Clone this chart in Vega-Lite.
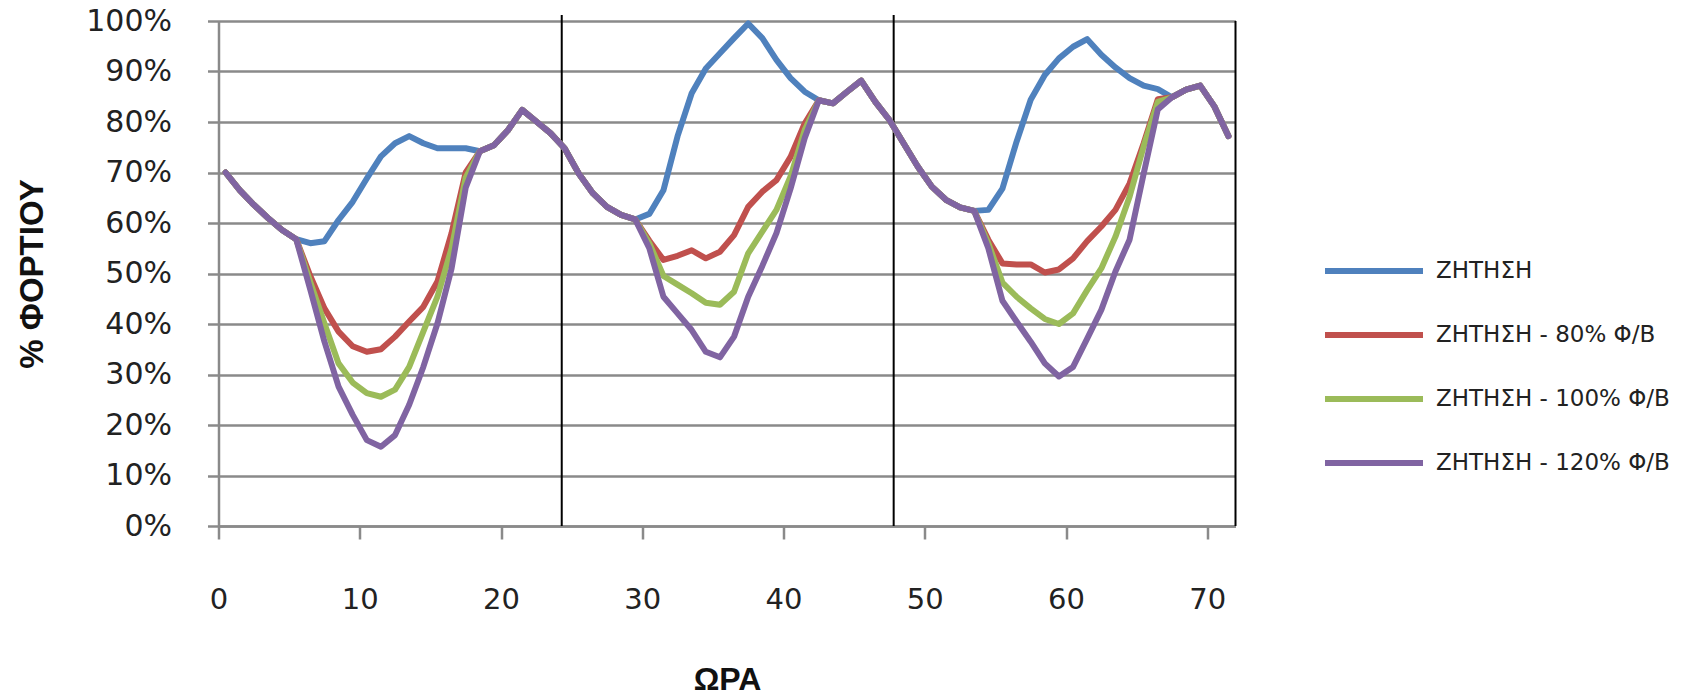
{
"$schema": "https://vega.github.io/schema/vega-lite/v6.json",
"width": 1017,
"height": 505,
"autosize": {"type": "none"},
"padding": {"left": 218.5, "top": 21, "right": 450.5, "bottom": 171},
"background": "white",
"config": {"view": {"stroke": null}, "font": "DejaVu Sans"},
"datasets": {
"dividers": [{"h": 24.3, "v": 0, "v2": 101.2}, {"h": 47.8, "v": 0, "v2": 101.2}, {"h": 72, "v": 0, "v2": 100}],
"load": [
{"h":0.5,"s":"ΖΗΤΗΣΗ","v":70},{"h":1.5,"s":"ΖΗΤΗΣΗ","v":66.5},{"h":2.5,"s":"ΖΗΤΗΣΗ","v":63.6},{"h":3.5,"s":"ΖΗΤΗΣΗ","v":61},{"h":4.5,"s":"ΖΗΤΗΣΗ","v":58.6},{"h":5.5,"s":"ΖΗΤΗΣΗ","v":56.8},{"h":6.5,"s":"ΖΗΤΗΣΗ","v":56.0},{"h":7.5,"s":"ΖΗΤΗΣΗ","v":56.4},{"h":8.5,"s":"ΖΗΤΗΣΗ","v":60.6},{"h":9.5,"s":"ΖΗΤΗΣΗ","v":64.2},
{"h":10.5,"s":"ΖΗΤΗΣΗ","v":68.8},{"h":11.5,"s":"ΖΗΤΗΣΗ","v":73.2},{"h":12.5,"s":"ΖΗΤΗΣΗ","v":75.8},{"h":13.5,"s":"ΖΗΤΗΣΗ","v":77.2},{"h":14.5,"s":"ΖΗΤΗΣΗ","v":75.8},{"h":15.5,"s":"ΖΗΤΗΣΗ","v":74.8},{"h":16.5,"s":"ΖΗΤΗΣΗ","v":74.8},{"h":17.5,"s":"ΖΗΤΗΣΗ","v":74.8},{"h":18.5,"s":"ΖΗΤΗΣΗ","v":74.2},{"h":19.5,"s":"ΖΗΤΗΣΗ","v":75.4},
{"h":20.5,"s":"ΖΗΤΗΣΗ","v":78.4},{"h":21.5,"s":"ΖΗΤΗΣΗ","v":82.4},{"h":22.5,"s":"ΖΗΤΗΣΗ","v":80.1},{"h":23.5,"s":"ΖΗΤΗΣΗ","v":77.8},{"h":24.5,"s":"ΖΗΤΗΣΗ","v":74.8},{"h":25.5,"s":"ΖΗΤΗΣΗ","v":69.8},{"h":26.5,"s":"ΖΗΤΗΣΗ","v":65.9},{"h":27.5,"s":"ΖΗΤΗΣΗ","v":63.2},{"h":28.5,"s":"ΖΗΤΗΣΗ","v":61.6},{"h":29.5,"s":"ΖΗΤΗΣΗ","v":60.7},
{"h":30.5,"s":"ΖΗΤΗΣΗ","v":61.8},{"h":31.5,"s":"ΖΗΤΗΣΗ","v":66.5},{"h":32.5,"s":"ΖΗΤΗΣΗ","v":77.2},{"h":33.5,"s":"ΖΗΤΗΣΗ","v":85.7},{"h":34.5,"s":"ΖΗΤΗΣΗ","v":90.6},{"h":35.5,"s":"ΖΗΤΗΣΗ","v":93.6},{"h":36.5,"s":"ΖΗΤΗΣΗ","v":96.6},{"h":37.5,"s":"ΖΗΤΗΣΗ","v":99.5},{"h":38.5,"s":"ΖΗΤΗΣΗ","v":96.6},{"h":39.5,"s":"ΖΗΤΗΣΗ","v":92.3},
{"h":40.5,"s":"ΖΗΤΗΣΗ","v":88.7},{"h":41.5,"s":"ΖΗΤΗΣΗ","v":86.0},{"h":42.5,"s":"ΖΗΤΗΣΗ","v":84.3},{"h":43.5,"s":"ΖΗΤΗΣΗ","v":83.7},{"h":44.5,"s":"ΖΗΤΗΣΗ","v":86.0},{"h":45.5,"s":"ΖΗΤΗΣΗ","v":88.2},{"h":46.5,"s":"ΖΗΤΗΣΗ","v":84.0},{"h":47.5,"s":"ΖΗΤΗΣΗ","v":80.4},{"h":48.5,"s":"ΖΗΤΗΣΗ","v":75.8},{"h":49.5,"s":"ΖΗΤΗΣΗ","v":71.2},
{"h":50.5,"s":"ΖΗΤΗΣΗ","v":67.2},{"h":51.5,"s":"ΖΗΤΗΣΗ","v":64.6},{"h":52.5,"s":"ΖΗΤΗΣΗ","v":63.1},{"h":53.5,"s":"ΖΗΤΗΣΗ","v":62.4},{"h":54.5,"s":"ΖΗΤΗΣΗ","v":62.6},{"h":55.5,"s":"ΖΗΤΗΣΗ","v":66.8},{"h":56.5,"s":"ΖΗΤΗΣΗ","v":76.1},{"h":57.5,"s":"ΖΗΤΗΣΗ","v":84.4},{"h":58.5,"s":"ΖΗΤΗΣΗ","v":89.3},{"h":59.5,"s":"ΖΗΤΗΣΗ","v":92.6},
{"h":60.5,"s":"ΖΗΤΗΣΗ","v":94.9},{"h":61.5,"s":"ΖΗΤΗΣΗ","v":96.4},{"h":62.5,"s":"ΖΗΤΗΣΗ","v":93.3},{"h":63.5,"s":"ΖΗΤΗΣΗ","v":90.8},{"h":64.5,"s":"ΖΗΤΗΣΗ","v":88.7},{"h":65.5,"s":"ΖΗΤΗΣΗ","v":87.2},{"h":66.5,"s":"ΖΗΤΗΣΗ","v":86.5},{"h":67.5,"s":"ΖΗΤΗΣΗ","v":84.9},{"h":68.5,"s":"ΖΗΤΗΣΗ","v":86.4},{"h":69.5,"s":"ΖΗΤΗΣΗ","v":87.2},
{"h":70.5,"s":"ΖΗΤΗΣΗ","v":83.1},{"h":71.5,"s":"ΖΗΤΗΣΗ","v":77.2},
{"h":0.5,"s":"ΖΗΤΗΣΗ - 80% Φ/Β","v":70},{"h":1.5,"s":"ΖΗΤΗΣΗ - 80% Φ/Β","v":66.5},{"h":2.5,"s":"ΖΗΤΗΣΗ - 80% Φ/Β","v":63.6},{"h":3.5,"s":"ΖΗΤΗΣΗ - 80% Φ/Β","v":61},{"h":4.5,"s":"ΖΗΤΗΣΗ - 80% Φ/Β","v":58.6},{"h":5.5,"s":"ΖΗΤΗΣΗ - 80% Φ/Β","v":56.8},{"h":6.5,"s":"ΖΗΤΗΣΗ - 80% Φ/Β","v":49.5},{"h":7.5,"s":"ΖΗΤΗΣΗ - 80% Φ/Β","v":43.1},{"h":8.5,"s":"ΖΗΤΗΣΗ - 80% Φ/Β","v":38.5},{"h":9.5,"s":"ΖΗΤΗΣΗ - 80% Φ/Β","v":35.6},
{"h":10.5,"s":"ΖΗΤΗΣΗ - 80% Φ/Β","v":34.5},{"h":11.5,"s":"ΖΗΤΗΣΗ - 80% Φ/Β","v":35.0},{"h":12.5,"s":"ΖΗΤΗΣΗ - 80% Φ/Β","v":37.5},{"h":13.5,"s":"ΖΗΤΗΣΗ - 80% Φ/Β","v":40.5},{"h":14.5,"s":"ΖΗΤΗΣΗ - 80% Φ/Β","v":43.4},{"h":15.5,"s":"ΖΗΤΗΣΗ - 80% Φ/Β","v":48.4},{"h":16.5,"s":"ΖΗΤΗΣΗ - 80% Φ/Β","v":58},{"h":17.5,"s":"ΖΗΤΗΣΗ - 80% Φ/Β","v":70},{"h":18.5,"s":"ΖΗΤΗΣΗ - 80% Φ/Β","v":74.2},{"h":19.5,"s":"ΖΗΤΗΣΗ - 80% Φ/Β","v":75.4},
{"h":20.5,"s":"ΖΗΤΗΣΗ - 80% Φ/Β","v":78.4},{"h":21.5,"s":"ΖΗΤΗΣΗ - 80% Φ/Β","v":82.4},{"h":22.5,"s":"ΖΗΤΗΣΗ - 80% Φ/Β","v":80.1},{"h":23.5,"s":"ΖΗΤΗΣΗ - 80% Φ/Β","v":77.8},{"h":24.5,"s":"ΖΗΤΗΣΗ - 80% Φ/Β","v":74.8},{"h":25.5,"s":"ΖΗΤΗΣΗ - 80% Φ/Β","v":69.8},{"h":26.5,"s":"ΖΗΤΗΣΗ - 80% Φ/Β","v":65.9},{"h":27.5,"s":"ΖΗΤΗΣΗ - 80% Φ/Β","v":63.2},{"h":28.5,"s":"ΖΗΤΗΣΗ - 80% Φ/Β","v":61.6},{"h":29.5,"s":"ΖΗΤΗΣΗ - 80% Φ/Β","v":60.7},
{"h":30.5,"s":"ΖΗΤΗΣΗ - 80% Φ/Β","v":56.5},{"h":31.5,"s":"ΖΗΤΗΣΗ - 80% Φ/Β","v":52.7},{"h":32.5,"s":"ΖΗΤΗΣΗ - 80% Φ/Β","v":53.5},{"h":33.5,"s":"ΖΗΤΗΣΗ - 80% Φ/Β","v":54.6},{"h":34.5,"s":"ΖΗΤΗΣΗ - 80% Φ/Β","v":53.0},{"h":35.5,"s":"ΖΗΤΗΣΗ - 80% Φ/Β","v":54.3},{"h":36.5,"s":"ΖΗΤΗΣΗ - 80% Φ/Β","v":57.6},{"h":37.5,"s":"ΖΗΤΗΣΗ - 80% Φ/Β","v":63.2},{"h":38.5,"s":"ΖΗΤΗΣΗ - 80% Φ/Β","v":66.2},{"h":39.5,"s":"ΖΗΤΗΣΗ - 80% Φ/Β","v":68.5},
{"h":40.5,"s":"ΖΗΤΗΣΗ - 80% Φ/Β","v":73.1},{"h":41.5,"s":"ΖΗΤΗΣΗ - 80% Φ/Β","v":79.7},{"h":42.5,"s":"ΖΗΤΗΣΗ - 80% Φ/Β","v":84.3},{"h":43.5,"s":"ΖΗΤΗΣΗ - 80% Φ/Β","v":83.7},{"h":44.5,"s":"ΖΗΤΗΣΗ - 80% Φ/Β","v":86.0},{"h":45.5,"s":"ΖΗΤΗΣΗ - 80% Φ/Β","v":88.2},{"h":46.5,"s":"ΖΗΤΗΣΗ - 80% Φ/Β","v":84.0},{"h":47.5,"s":"ΖΗΤΗΣΗ - 80% Φ/Β","v":80.4},{"h":48.5,"s":"ΖΗΤΗΣΗ - 80% Φ/Β","v":75.8},{"h":49.5,"s":"ΖΗΤΗΣΗ - 80% Φ/Β","v":71.2},
{"h":50.5,"s":"ΖΗΤΗΣΗ - 80% Φ/Β","v":67.2},{"h":51.5,"s":"ΖΗΤΗΣΗ - 80% Φ/Β","v":64.6},{"h":52.5,"s":"ΖΗΤΗΣΗ - 80% Φ/Β","v":63.1},{"h":53.5,"s":"ΖΗΤΗΣΗ - 80% Φ/Β","v":62.4},{"h":54.5,"s":"ΖΗΤΗΣΗ - 80% Φ/Β","v":56.7},{"h":55.5,"s":"ΖΗΤΗΣΗ - 80% Φ/Β","v":52.0},{"h":56.5,"s":"ΖΗΤΗΣΗ - 80% Φ/Β","v":51.8},{"h":57.5,"s":"ΖΗΤΗΣΗ - 80% Φ/Β","v":51.8},{"h":58.5,"s":"ΖΗΤΗΣΗ - 80% Φ/Β","v":50.2},{"h":59.5,"s":"ΖΗΤΗΣΗ - 80% Φ/Β","v":50.8},
{"h":60.5,"s":"ΖΗΤΗΣΗ - 80% Φ/Β","v":53.0},{"h":61.5,"s":"ΖΗΤΗΣΗ - 80% Φ/Β","v":56.4},{"h":62.5,"s":"ΖΗΤΗΣΗ - 80% Φ/Β","v":59.3},{"h":63.5,"s":"ΖΗΤΗΣΗ - 80% Φ/Β","v":62.6},{"h":64.5,"s":"ΖΗΤΗΣΗ - 80% Φ/Β","v":67.8},{"h":65.5,"s":"ΖΗΤΗΣΗ - 80% Φ/Β","v":75.8},{"h":66.5,"s":"ΖΗΤΗΣΗ - 80% Φ/Β","v":84.5},{"h":67.5,"s":"ΖΗΤΗΣΗ - 80% Φ/Β","v":84.9},{"h":68.5,"s":"ΖΗΤΗΣΗ - 80% Φ/Β","v":86.4},{"h":69.5,"s":"ΖΗΤΗΣΗ - 80% Φ/Β","v":87.2},
{"h":70.5,"s":"ΖΗΤΗΣΗ - 80% Φ/Β","v":83.1},{"h":71.5,"s":"ΖΗΤΗΣΗ - 80% Φ/Β","v":77.2},
{"h":0.5,"s":"ΖΗΤΗΣΗ - 100% Φ/Β","v":70},{"h":1.5,"s":"ΖΗΤΗΣΗ - 100% Φ/Β","v":66.5},{"h":2.5,"s":"ΖΗΤΗΣΗ - 100% Φ/Β","v":63.6},{"h":3.5,"s":"ΖΗΤΗΣΗ - 100% Φ/Β","v":61},{"h":4.5,"s":"ΖΗΤΗΣΗ - 100% Φ/Β","v":58.6},{"h":5.5,"s":"ΖΗΤΗΣΗ - 100% Φ/Β","v":56.8},{"h":6.5,"s":"ΖΗΤΗΣΗ - 100% Φ/Β","v":48.3},{"h":7.5,"s":"ΖΗΤΗΣΗ - 100% Φ/Β","v":40.1},{"h":8.5,"s":"ΖΗΤΗΣΗ - 100% Φ/Β","v":32.2},{"h":9.5,"s":"ΖΗΤΗΣΗ - 100% Φ/Β","v":28.4},
{"h":10.5,"s":"ΖΗΤΗΣΗ - 100% Φ/Β","v":26.3},{"h":11.5,"s":"ΖΗΤΗΣΗ - 100% Φ/Β","v":25.6},{"h":12.5,"s":"ΖΗΤΗΣΗ - 100% Φ/Β","v":27.0},{"h":13.5,"s":"ΖΗΤΗΣΗ - 100% Φ/Β","v":31.5},{"h":14.5,"s":"ΖΗΤΗΣΗ - 100% Φ/Β","v":38.5},{"h":15.5,"s":"ΖΗΤΗΣΗ - 100% Φ/Β","v":45.4},{"h":16.5,"s":"ΖΗΤΗΣΗ - 100% Φ/Β","v":55},{"h":17.5,"s":"ΖΗΤΗΣΗ - 100% Φ/Β","v":69},{"h":18.5,"s":"ΖΗΤΗΣΗ - 100% Φ/Β","v":74.2},{"h":19.5,"s":"ΖΗΤΗΣΗ - 100% Φ/Β","v":75.4},
{"h":20.5,"s":"ΖΗΤΗΣΗ - 100% Φ/Β","v":78.4},{"h":21.5,"s":"ΖΗΤΗΣΗ - 100% Φ/Β","v":82.4},{"h":22.5,"s":"ΖΗΤΗΣΗ - 100% Φ/Β","v":80.1},{"h":23.5,"s":"ΖΗΤΗΣΗ - 100% Φ/Β","v":77.8},{"h":24.5,"s":"ΖΗΤΗΣΗ - 100% Φ/Β","v":74.8},{"h":25.5,"s":"ΖΗΤΗΣΗ - 100% Φ/Β","v":69.8},{"h":26.5,"s":"ΖΗΤΗΣΗ - 100% Φ/Β","v":65.9},{"h":27.5,"s":"ΖΗΤΗΣΗ - 100% Φ/Β","v":63.2},{"h":28.5,"s":"ΖΗΤΗΣΗ - 100% Φ/Β","v":61.6},{"h":29.5,"s":"ΖΗΤΗΣΗ - 100% Φ/Β","v":60.7},
{"h":30.5,"s":"ΖΗΤΗΣΗ - 100% Φ/Β","v":56},{"h":31.5,"s":"ΖΗΤΗΣΗ - 100% Φ/Β","v":49.5},{"h":32.5,"s":"ΖΗΤΗΣΗ - 100% Φ/Β","v":47.8},{"h":33.5,"s":"ΖΗΤΗΣΗ - 100% Φ/Β","v":46.1},{"h":34.5,"s":"ΖΗΤΗΣΗ - 100% Φ/Β","v":44.2},{"h":35.5,"s":"ΖΗΤΗΣΗ - 100% Φ/Β","v":43.8},{"h":36.5,"s":"ΖΗΤΗΣΗ - 100% Φ/Β","v":46.4},{"h":37.5,"s":"ΖΗΤΗΣΗ - 100% Φ/Β","v":54.0},{"h":38.5,"s":"ΖΗΤΗΣΗ - 100% Φ/Β","v":58.3},{"h":39.5,"s":"ΖΗΤΗΣΗ - 100% Φ/Β","v":62.6},
{"h":40.5,"s":"ΖΗΤΗΣΗ - 100% Φ/Β","v":69.2},{"h":41.5,"s":"ΖΗΤΗΣΗ - 100% Φ/Β","v":78.4},{"h":42.5,"s":"ΖΗΤΗΣΗ - 100% Φ/Β","v":84.3},{"h":43.5,"s":"ΖΗΤΗΣΗ - 100% Φ/Β","v":83.7},{"h":44.5,"s":"ΖΗΤΗΣΗ - 100% Φ/Β","v":86.0},{"h":45.5,"s":"ΖΗΤΗΣΗ - 100% Φ/Β","v":88.2},{"h":46.5,"s":"ΖΗΤΗΣΗ - 100% Φ/Β","v":84.0},{"h":47.5,"s":"ΖΗΤΗΣΗ - 100% Φ/Β","v":80.4},{"h":48.5,"s":"ΖΗΤΗΣΗ - 100% Φ/Β","v":75.8},{"h":49.5,"s":"ΖΗΤΗΣΗ - 100% Φ/Β","v":71.2},
{"h":50.5,"s":"ΖΗΤΗΣΗ - 100% Φ/Β","v":67.2},{"h":51.5,"s":"ΖΗΤΗΣΗ - 100% Φ/Β","v":64.6},{"h":52.5,"s":"ΖΗΤΗΣΗ - 100% Φ/Β","v":63.1},{"h":53.5,"s":"ΖΗΤΗΣΗ - 100% Φ/Β","v":62.4},{"h":54.5,"s":"ΖΗΤΗΣΗ - 100% Φ/Β","v":56},{"h":55.5,"s":"ΖΗΤΗΣΗ - 100% Φ/Β","v":48.2},{"h":56.5,"s":"ΖΗΤΗΣΗ - 100% Φ/Β","v":45.4},{"h":57.5,"s":"ΖΗΤΗΣΗ - 100% Φ/Β","v":43.1},{"h":58.5,"s":"ΖΗΤΗΣΗ - 100% Φ/Β","v":41.0},{"h":59.5,"s":"ΖΗΤΗΣΗ - 100% Φ/Β","v":40.0},
{"h":60.5,"s":"ΖΗΤΗΣΗ - 100% Φ/Β","v":42.1},{"h":61.5,"s":"ΖΗΤΗΣΗ - 100% Φ/Β","v":46.7},{"h":62.5,"s":"ΖΗΤΗΣΗ - 100% Φ/Β","v":51.0},{"h":63.5,"s":"ΖΗΤΗΣΗ - 100% Φ/Β","v":57.3},{"h":64.5,"s":"ΖΗΤΗΣΗ - 100% Φ/Β","v":65.2},{"h":65.5,"s":"ΖΗΤΗΣΗ - 100% Φ/Β","v":75.2},{"h":66.5,"s":"ΖΗΤΗΣΗ - 100% Φ/Β","v":84},{"h":67.5,"s":"ΖΗΤΗΣΗ - 100% Φ/Β","v":84.9},{"h":68.5,"s":"ΖΗΤΗΣΗ - 100% Φ/Β","v":86.4},{"h":69.5,"s":"ΖΗΤΗΣΗ - 100% Φ/Β","v":87.2},
{"h":70.5,"s":"ΖΗΤΗΣΗ - 100% Φ/Β","v":83.1},{"h":71.5,"s":"ΖΗΤΗΣΗ - 100% Φ/Β","v":77.2},
{"h":0.5,"s":"ΖΗΤΗΣΗ - 120% Φ/Β","v":70},{"h":1.5,"s":"ΖΗΤΗΣΗ - 120% Φ/Β","v":66.5},{"h":2.5,"s":"ΖΗΤΗΣΗ - 120% Φ/Β","v":63.6},{"h":3.5,"s":"ΖΗΤΗΣΗ - 120% Φ/Β","v":61},{"h":4.5,"s":"ΖΗΤΗΣΗ - 120% Φ/Β","v":58.6},{"h":5.5,"s":"ΖΗΤΗΣΗ - 120% Φ/Β","v":56.8},{"h":6.5,"s":"ΖΗΤΗΣΗ - 120% Φ/Β","v":46.8},{"h":7.5,"s":"ΖΗΤΗΣΗ - 120% Φ/Β","v":36.5},{"h":8.5,"s":"ΖΗΤΗΣΗ - 120% Φ/Β","v":27.6},{"h":9.5,"s":"ΖΗΤΗΣΗ - 120% Φ/Β","v":22.0},
{"h":10.5,"s":"ΖΗΤΗΣΗ - 120% Φ/Β","v":17.0},{"h":11.5,"s":"ΖΗΤΗΣΗ - 120% Φ/Β","v":15.7},{"h":12.5,"s":"ΖΗΤΗΣΗ - 120% Φ/Β","v":18.0},{"h":13.5,"s":"ΖΗΤΗΣΗ - 120% Φ/Β","v":24.0},{"h":14.5,"s":"ΖΗΤΗΣΗ - 120% Φ/Β","v":31.5},{"h":15.5,"s":"ΖΗΤΗΣΗ - 120% Φ/Β","v":40.1},{"h":16.5,"s":"ΖΗΤΗΣΗ - 120% Φ/Β","v":51},{"h":17.5,"s":"ΖΗΤΗΣΗ - 120% Φ/Β","v":67},{"h":18.5,"s":"ΖΗΤΗΣΗ - 120% Φ/Β","v":74.2},{"h":19.5,"s":"ΖΗΤΗΣΗ - 120% Φ/Β","v":75.4},
{"h":20.5,"s":"ΖΗΤΗΣΗ - 120% Φ/Β","v":78.4},{"h":21.5,"s":"ΖΗΤΗΣΗ - 120% Φ/Β","v":82.4},{"h":22.5,"s":"ΖΗΤΗΣΗ - 120% Φ/Β","v":80.1},{"h":23.5,"s":"ΖΗΤΗΣΗ - 120% Φ/Β","v":77.8},{"h":24.5,"s":"ΖΗΤΗΣΗ - 120% Φ/Β","v":74.8},{"h":25.5,"s":"ΖΗΤΗΣΗ - 120% Φ/Β","v":69.8},{"h":26.5,"s":"ΖΗΤΗΣΗ - 120% Φ/Β","v":65.9},{"h":27.5,"s":"ΖΗΤΗΣΗ - 120% Φ/Β","v":63.2},{"h":28.5,"s":"ΖΗΤΗΣΗ - 120% Φ/Β","v":61.6},{"h":29.5,"s":"ΖΗΤΗΣΗ - 120% Φ/Β","v":60.7},
{"h":30.5,"s":"ΖΗΤΗΣΗ - 120% Φ/Β","v":55},{"h":31.5,"s":"ΖΗΤΗΣΗ - 120% Φ/Β","v":45.4},{"h":32.5,"s":"ΖΗΤΗΣΗ - 120% Φ/Β","v":42.1},{"h":33.5,"s":"ΖΗΤΗΣΗ - 120% Φ/Β","v":38.8},{"h":34.5,"s":"ΖΗΤΗΣΗ - 120% Φ/Β","v":34.5},{"h":35.5,"s":"ΖΗΤΗΣΗ - 120% Φ/Β","v":33.4},{"h":36.5,"s":"ΖΗΤΗΣΗ - 120% Φ/Β","v":37.5},{"h":37.5,"s":"ΖΗΤΗΣΗ - 120% Φ/Β","v":45.4},{"h":38.5,"s":"ΖΗΤΗΣΗ - 120% Φ/Β","v":51.5},{"h":39.5,"s":"ΖΗΤΗΣΗ - 120% Φ/Β","v":58.0},
{"h":40.5,"s":"ΖΗΤΗΣΗ - 120% Φ/Β","v":66.8},{"h":41.5,"s":"ΖΗΤΗΣΗ - 120% Φ/Β","v":76.8},{"h":42.5,"s":"ΖΗΤΗΣΗ - 120% Φ/Β","v":84.3},{"h":43.5,"s":"ΖΗΤΗΣΗ - 120% Φ/Β","v":83.7},{"h":44.5,"s":"ΖΗΤΗΣΗ - 120% Φ/Β","v":86.0},{"h":45.5,"s":"ΖΗΤΗΣΗ - 120% Φ/Β","v":88.2},{"h":46.5,"s":"ΖΗΤΗΣΗ - 120% Φ/Β","v":84.0},{"h":47.5,"s":"ΖΗΤΗΣΗ - 120% Φ/Β","v":80.4},{"h":48.5,"s":"ΖΗΤΗΣΗ - 120% Φ/Β","v":75.8},{"h":49.5,"s":"ΖΗΤΗΣΗ - 120% Φ/Β","v":71.2},
{"h":50.5,"s":"ΖΗΤΗΣΗ - 120% Φ/Β","v":67.2},{"h":51.5,"s":"ΖΗΤΗΣΗ - 120% Φ/Β","v":64.6},{"h":52.5,"s":"ΖΗΤΗΣΗ - 120% Φ/Β","v":63.1},{"h":53.5,"s":"ΖΗΤΗΣΗ - 120% Φ/Β","v":62.4},{"h":54.5,"s":"ΖΗΤΗΣΗ - 120% Φ/Β","v":55},{"h":55.5,"s":"ΖΗΤΗΣΗ - 120% Φ/Β","v":44.6},{"h":56.5,"s":"ΖΗΤΗΣΗ - 120% Φ/Β","v":40.5},{"h":57.5,"s":"ΖΗΤΗΣΗ - 120% Φ/Β","v":36.5},{"h":58.5,"s":"ΖΗΤΗΣΗ - 120% Φ/Β","v":32.2},{"h":59.5,"s":"ΖΗΤΗΣΗ - 120% Φ/Β","v":29.6},
{"h":60.5,"s":"ΖΗΤΗΣΗ - 120% Φ/Β","v":31.5},{"h":61.5,"s":"ΖΗΤΗΣΗ - 120% Φ/Β","v":37.1},{"h":62.5,"s":"ΖΗΤΗΣΗ - 120% Φ/Β","v":42.8},{"h":63.5,"s":"ΖΗΤΗΣΗ - 120% Φ/Β","v":50.4},{"h":64.5,"s":"ΖΗΤΗΣΗ - 120% Φ/Β","v":56.7},{"h":65.5,"s":"ΖΗΤΗΣΗ - 120% Φ/Β","v":69.8},{"h":66.5,"s":"ΖΗΤΗΣΗ - 120% Φ/Β","v":82.5},{"h":67.5,"s":"ΖΗΤΗΣΗ - 120% Φ/Β","v":84.9},{"h":68.5,"s":"ΖΗΤΗΣΗ - 120% Φ/Β","v":86.4},{"h":69.5,"s":"ΖΗΤΗΣΗ - 120% Φ/Β","v":87.2},
{"h":70.5,"s":"ΖΗΤΗΣΗ - 120% Φ/Β","v":83.1},{"h":71.5,"s":"ΖΗΤΗΣΗ - 120% Φ/Β","v":77.2}
]
},
"data": {"name": "load"},
"encoding": {
"x": {"field": "h", "type": "quantitative", "scale": {"domain": [0, 72], "nice": false, "zero": false},
 "axis": {"title": "ΩΡΑ", "values": [0, 10, 20, 30, 40, 50, 60, 70], "grid": false, "domain": true, "domainColor": "#8a8a8a", "domainWidth": 2.5, "tickColor": "#8a8a8a", "tickWidth": 2.5, "tickSize": 13, "labelFont": "DejaVu Sans", "labelFontSize": 29, "labelColor": "#222222", "labelPadding": 46, "labelFlush": false, "titleFont": "Liberation Sans", "titleFontWeight": "bold", "titleFontSize": 32, "titleColor": "#111111", "titleX": 508.5, "titleY": 163, "titleAlign": "center", "titleBaseline": "alphabetic"}},
"y": {"field": "v", "type": "quantitative", "scale": {"domain": [0, 100], "nice": false},
 "axis": {"title": "% ΦΟΡΤΙΟΥ", "values": [0, 10, 20, 30, 40, 50, 60, 70, 80, 90, 100], "labelExpr": "datum.value + '%'", "grid": true, "gridColor": "#8a8a8a", "gridWidth": 2.5, "domain": true, "domainColor": "#8a8a8a", "domainWidth": 2.5, "tickColor": "#8a8a8a", "tickWidth": 2.5, "tickSize": 11, "labelFont": "DejaVu Sans", "labelFontSize": 30, "labelColor": "#222222", "labelPadding": 36, "labelFlush": false, "titleFont": "Liberation Sans", "titleFontWeight": "bold", "titleFontSize": 33, "titleColor": "#111111", "titleAngle": 270, "titleX": -176, "titleY": 252.5, "titleAlign": "center", "titleBaseline": "alphabetic"}},
"color": {"field": "s", "type": "nominal",
 "scale": {"domain": ["ΖΗΤΗΣΗ", "ΖΗΤΗΣΗ - 80% Φ/Β", "ΖΗΤΗΣΗ - 100% Φ/Β", "ΖΗΤΗΣΗ - 120% Φ/Β"], "range": ["#4F81BD", "#C0504D", "#9BBB59", "#8064A2"]},
 "legend": {"orient": "none", "legendX": 1103.5, "legendY": 198, "title": null, "symbolType": "stroke", "symbolSize": 9604, "symbolStrokeWidth": 6, "labelFont": "DejaVu Sans", "labelFontSize": 23, "labelColor": "#222222", "labelOffset": 10, "rowPadding": -30, "padding": 0, "labelLimit": 400}}
},
"layer": [
{"data": {"name": "dividers"}, "mark": {"type": "rule", "strokeWidth": 2, "clip": false}, "encoding": {"y2": {"field": "v2"}, "color": {"value": "#000000"}}},
{"transform": [{"filter": {"field": "s", "equal": "ΖΗΤΗΣΗ"}}], "mark": {"type": "line", "strokeWidth": 6, "strokeJoin": "round", "strokeCap": "round"}, "encoding": {}},
{"transform": [{"filter": {"field": "s", "equal": "ΖΗΤΗΣΗ - 80% Φ/Β"}}], "mark": {"type": "line", "strokeWidth": 6, "strokeJoin": "round", "strokeCap": "round"}, "encoding": {}},
{"transform": [{"filter": {"field": "s", "equal": "ΖΗΤΗΣΗ - 100% Φ/Β"}}], "mark": {"type": "line", "strokeWidth": 6, "strokeJoin": "round", "strokeCap": "round"}, "encoding": {}},
{"transform": [{"filter": {"field": "s", "equal": "ΖΗΤΗΣΗ - 120% Φ/Β"}}], "mark": {"type": "line", "strokeWidth": 6, "strokeJoin": "round", "strokeCap": "round"}, "encoding": {}}
]
}
